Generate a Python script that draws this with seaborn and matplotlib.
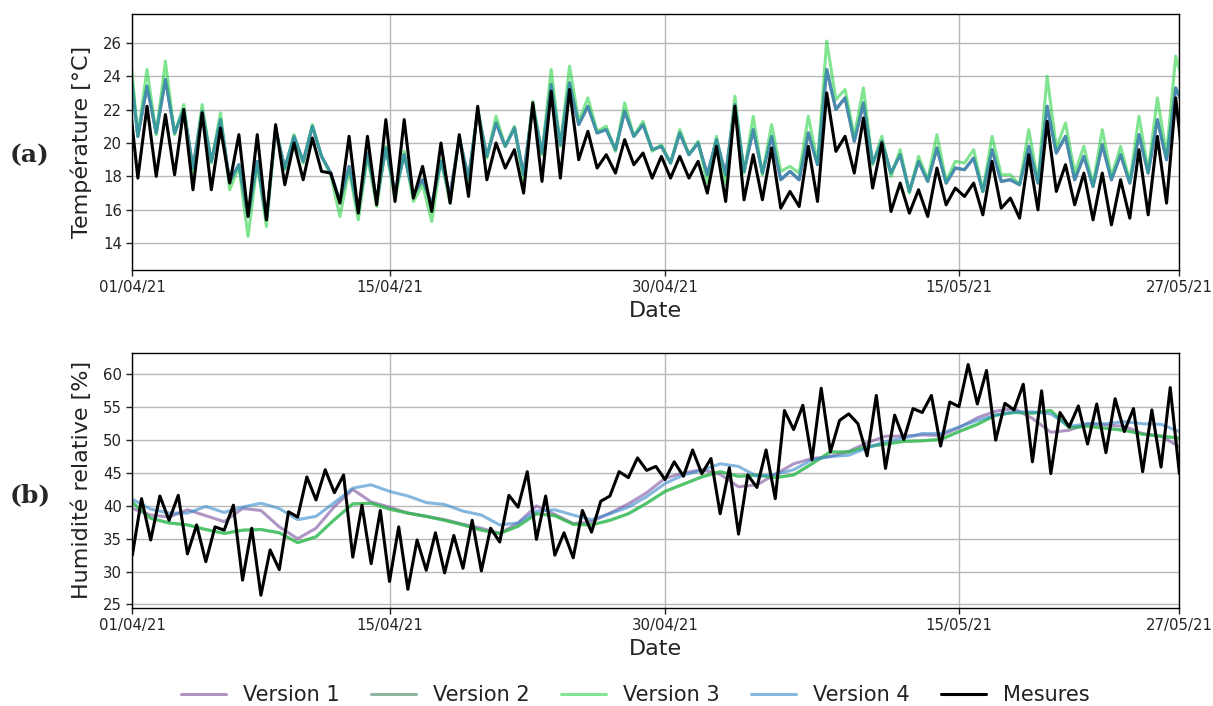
import numpy as np
import matplotlib
matplotlib.use("Agg")
import matplotlib.pyplot as plt
import seaborn as sns

# x axis: days since 01/04/21 (labels follow the original figure)
tick_days = [0, 14, 29, 45, 57]
tick_labels = ['01/04/21', '15/04/21', '30/04/21', '15/05/21', '27/05/21']
series_names = ['Version 1', 'Version 2', 'Version 3', 'Version 4', 'Mesures']

# temperature, one value every 12 h (07:00 / 19:00), first value is 31/03 19:00
temp_mes = [23.0,
            17.9, 22.2, 18.0, 21.7, 18.1, 22.0, 17.2, 21.8, 17.2, 20.9, 17.6, 20.5, 15.6, 20.5,
            15.4, 21.1, 17.5, 20.0, 17.8, 20.3, 18.3, 18.2, 16.4, 20.4, 15.8, 20.4, 16.3, 21.4,
            16.5, 21.4, 16.7, 18.6, 15.9, 20.0, 16.4, 20.5, 16.8, 22.2, 17.8, 20.0, 18.5, 19.6,
            17.0, 22.4, 17.7, 23.1, 17.9, 23.2, 19.0, 20.7, 18.5, 19.3, 18.2, 20.2, 18.7, 19.4,
            17.9, 19.2, 17.9, 19.2, 17.9, 18.9, 17.0, 19.8, 16.5, 22.2, 16.6, 19.3, 16.6, 19.7,
            16.1, 17.1, 16.2, 19.8, 16.5, 23.0, 19.5, 20.4, 18.2, 21.5, 17.3, 20.0, 15.9, 17.6,
            15.8, 17.2, 15.6, 18.5, 16.3, 17.3, 16.8, 17.6, 15.7, 18.9, 16.1, 16.7, 15.5, 19.3,
            16.0, 21.3, 17.1, 18.7, 16.3, 18.2, 15.4, 18.2, 15.1, 17.8, 15.5, 19.6, 15.7, 20.4,
            16.4, 22.7, 17.7]

temp_v3 = [26.4,
           20.4, 24.4, 20.5, 24.9, 20.5, 22.3, 18.2, 22.3, 18.8, 21.8, 17.2, 18.6, 14.4, 18.8,
           15.0, 20.9, 18.4, 20.5, 18.8, 21.1, 19.2, 18.1, 15.6, 18.4, 15.4, 19.2, 16.2, 19.8,
           16.6, 19.5, 16.5, 17.5, 15.3, 19.0, 16.4, 20.4, 17.6, 22.1, 19.1, 21.6, 19.8, 21.0,
           17.7, 22.5, 19.3, 24.4, 19.8, 24.6, 21.3, 22.7, 20.7, 21.0, 19.5, 22.4, 20.4, 21.3,
           19.5, 19.9, 18.8, 20.8, 19.3, 20.1, 17.6, 20.4, 17.5, 22.8, 18.2, 21.6, 18.1, 21.1,
           18.3, 18.6, 18.2, 21.6, 18.8, 26.1, 22.6, 23.2, 20.4, 23.3, 18.7, 20.4, 18.0, 19.6,
           17.0, 19.2, 17.8, 20.5, 17.7, 18.9, 18.8, 19.6, 17.1, 20.4, 18.1, 18.1, 17.5, 20.8,
           17.7, 24.0, 19.7, 21.2, 18.2, 19.8, 17.5, 20.8, 18.0, 19.8, 17.7, 21.6, 18.3, 22.7,
           19.3, 25.2, 23.2]

# versions 1, 2 and 4 lie on top of each other in the temperature panel
temp_v124 = [25.4,
             20.4, 23.4, 20.6, 23.8, 20.6, 22.0, 18.5, 21.9, 18.9, 21.4, 17.7, 18.7, 15.6, 18.9,
             15.4, 20.8, 18.5, 20.4, 18.9, 21.0, 19.2, 18.2, 16.5, 18.6, 15.9, 19.4, 16.6, 19.7,
             17.0, 19.3, 16.9, 17.8, 16.3, 18.9, 16.9, 20.3, 17.9, 21.9, 19.2, 21.2, 19.8, 20.9,
             18.1, 22.2, 19.4, 23.5, 19.9, 23.6, 21.1, 22.2, 20.6, 20.8, 19.6, 21.9, 20.4, 21.1,
             19.6, 19.8, 18.8, 20.6, 19.3, 20.0, 18.1, 20.2, 18.1, 22.3, 18.3, 20.8, 18.2, 20.4,
             17.8, 18.3, 17.8, 20.6, 18.7, 24.4, 22.0, 22.7, 20.1, 22.4, 18.8, 20.1, 18.2, 19.3,
             17.1, 18.9, 17.7, 19.7, 17.6, 18.5, 18.4, 19.1, 17.1, 19.6, 17.7, 17.8, 17.5, 19.8,
             17.6, 22.2, 19.4, 20.4, 17.8, 19.2, 17.4, 19.9, 17.8, 19.3, 17.6, 20.5, 18.2, 21.4,
             19.0, 23.3, 22.05]

# relative humidity measured, one value every 12 h (00:00 / 12:00)
hum_mes = [32.5, 41.1, 34.8, 41.5, 37.8, 41.6, 32.7, 37.1, 31.5, 36.8, 36.3, 40.1, 28.7, 36.6,
           26.4, 33.3, 30.3, 39.1, 38.3, 44.4, 40.9, 45.5, 42.0, 44.7, 32.2, 40.1, 31.2, 39.3,
           28.5, 36.8, 27.3, 34.8, 30.2, 35.9, 29.8, 35.5, 30.5, 37.8, 30.1, 36.6, 34.5, 41.6,
           39.8, 45.2, 34.9, 41.5, 32.5, 35.9, 32.1, 39.3, 36.0, 40.7, 41.5, 45.2, 44.3, 47.3,
           45.4, 46.0, 44.0, 46.7, 44.5, 48.5, 44.9, 47.2, 38.8, 45.8, 35.7, 44.7, 42.8, 48.5,
           41.1, 54.5, 51.6, 55.3, 47.0, 57.9, 48.2, 53.0, 54.0, 52.5, 47.6, 56.8, 45.7, 53.8,
           50.1, 54.8, 54.2, 56.8, 49.1, 55.8, 55.1, 61.5, 55.5, 60.6, 50.0, 55.6, 54.6, 58.5,
           46.7, 57.5, 44.9, 54.2, 52.0, 55.2, 49.4, 55.5, 48.1, 56.3, 51.3, 54.8, 45.2, 54.6,
           45.9, 58.0, 44.9]

# simulated humidity, one value per day
hum_v1 = [39.6, 38.6, 38.3, 39.4, 38.5, 37.6, 39.6, 39.3, 36.8, 35.0,
          36.6, 39.9, 42.5, 40.6, 39.8, 38.9, 38.4, 37.9, 37.2, 36.6,
          35.8, 37.4, 40.0, 38.7, 37.3, 37.6, 38.9, 40.3, 42.0, 44.2,
          45.0, 45.5, 44.8, 42.9, 43.2, 44.8, 46.4, 47.2, 47.5, 48.3,
          49.6, 50.6, 50.6, 50.8, 50.7, 51.9, 53.4, 54.4, 54.8, 53.3,
          51.2, 51.5, 52.5, 52.3, 52.1, 51.0, 50.6, 49.0]

# versions 2 and 3 coincide in the humidity panel
hum_v23 = [40.5, 38.1, 37.4, 37.1, 36.4, 35.8, 36.3, 36.4, 35.9, 34.4,
           35.3, 37.9, 40.3, 40.4, 39.5, 38.9, 38.4, 37.8, 37.1, 36.3,
           35.8, 36.9, 38.8, 38.5, 37.2, 37.1, 37.8, 38.8, 40.4, 42.2,
           43.3, 44.4, 45.2, 44.5, 44.7, 44.3, 44.7, 46.4, 48.2, 48.2,
           49.0, 49.4, 49.8, 49.9, 50.1, 51.3, 52.4, 53.8, 54.2, 54.1,
           54.5, 51.9, 52.1, 51.8, 51.5, 50.9, 50.6, 50.3]

hum_v4 = [41.0, 39.5, 38.9, 38.9, 39.9, 39.0, 39.8, 40.4, 39.6, 37.9,
          38.4, 40.5, 42.7, 43.2, 42.2, 41.5, 40.5, 40.2, 39.2, 38.6,
          37.1, 37.4, 39.2, 39.4, 38.6, 37.9, 38.8, 39.8, 41.4, 43.4,
          44.7, 45.4, 46.4, 46.0, 44.5, 44.8, 45.5, 47.0, 47.5, 47.7,
          48.8, 49.8, 50.3, 51.0, 51.0, 52.0, 53.0, 53.8, 54.3, 54.3,
          54.0, 52.1, 52.5, 52.5, 52.8, 52.5, 52.4, 51.3]

temp_t = np.linspace(-0.2, 57.3, len(temp_mes))
hum_t = np.linspace(0, 57, len(hum_mes))
hum_days = np.arange(len(hum_v1))

colors = ['#7b4f9d', '#3f8261', '#2bd248', '#358acb', 'black']
alphas = [0.6, 0.6, 0.6, 0.6, 1.0]

sns.set_style('whitegrid', {'axes.edgecolor': 'black', 'grid.color': '#b8b8b8',
                            'xtick.bottom': True, 'ytick.left': True})
plt.rcParams['font.family'] = ['DejaVu Sans']
plt.rcParams['xtick.color'] = '#222222'
plt.rcParams['ytick.color'] = '#222222'

fig = plt.figure(figsize=(12.13, 7.06), dpi=100)
ax_t = fig.add_axes([0.1091, 0.6176, 0.8632, 0.3621])
ax_h = fig.add_axes([0.1091, 0.1392, 0.8632, 0.3612])

temp_series = [(temp_t, temp_v124), (temp_t, temp_v124), (temp_t, temp_v3),
               (temp_t, temp_v124), (temp_t, temp_mes)]
hum_series = [(hum_days, hum_v1), (hum_days, hum_v23), (hum_days, hum_v23),
              (hum_days, hum_v4), (hum_t, hum_mes)]

for ax, series in [(ax_t, temp_series), (ax_h, hum_series)]:
    for (x, y), name, c, a in zip(series, series_names, colors, alphas):
        sns.lineplot(x=x, y=y, ax=ax, color=c, alpha=a, lw=2.2, label=name, legend=False)
    ax.set_xlim(0, 57)
    ax.set_xticks(tick_days, tick_labels)
    ax.set_xlabel('Date', fontsize=16, color='#222222')
    ax.tick_params(labelsize=10.7, length=4, width=1)
    ax.grid(True, color='#b8b8b8', lw=1)
    for s in ax.spines.values():
        s.set_color('black')
        s.set_linewidth(1)

ax_t.set_ylim(12.4, 27.7)
ax_t.set_yticks(range(14, 27, 2))
ax_t.set_ylabel('Température [°C]', fontsize=16, color='#222222', labelpad=8)

ax_h.set_ylim(24.5, 63.3)
ax_h.set_yticks(range(25, 61, 5))
ax_h.set_ylabel('Humidité relative [%]', fontsize=16, color='#222222', labelpad=8)

fig.text(0.008, 1 - 155 / 706, '(a)', fontsize=18, fontweight='bold',
         family='DejaVu Serif', va='center', ha='left')
fig.text(0.008, 1 - 495 / 706, '(b)', fontsize=18, fontweight='bold',
         family='DejaVu Serif', va='center', ha='left')

handles = ax_h.get_lines()[:5]
fig.legend(handles, series_names, loc='center', bbox_to_anchor=(0.5235, 0.0156),
           ncol=5, frameon=False, fontsize=15, handlelength=2.16,
           handletextpad=0.82, columnspacing=1.5, labelcolor='#222222')

fig.savefig('out.png', dpi=100)
